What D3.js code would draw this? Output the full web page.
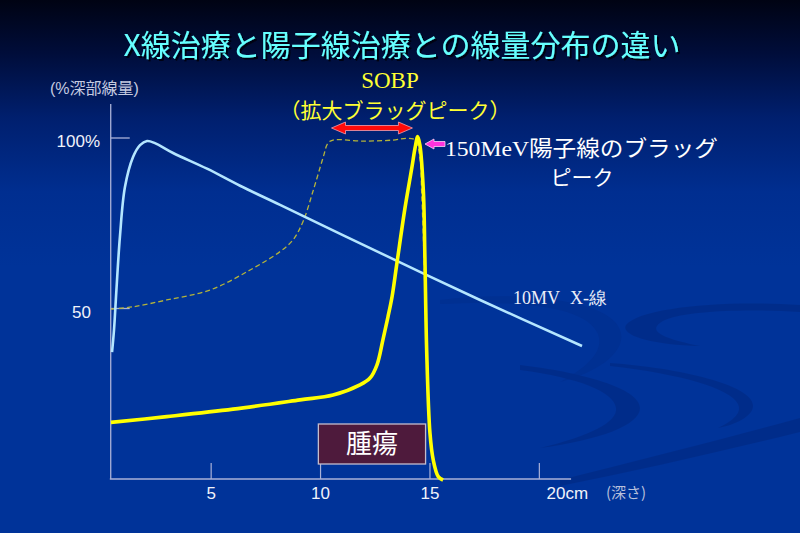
<!DOCTYPE html>
<html>
<head>
<meta charset="utf-8">
<script src="https://cdn.jsdelivr.net/npm/d3@7"></script>
<style>
html,body{margin:0;padding:0;background:#003399;}
svg{display:block;}
</style>
</head>
<body>
<svg id="chart" width="800" height="533"></svg>
<script>
// ---- data ----
const xrayDepth = [0.47,0.56,0.67,0.83,1.06,1.43,1.75,2.07,2.43,3.26,4.81,6.32,8.15,12.72,17.29,21.95];
const xrayDose  = [37.2,43.7,55.4,71.0,85.6,94.4,97.9,99.1,98.5,95.6,91.0,86.0,80.4,66.3,52.5,39.0];

const protonDepth = [0.42,2.97,6.00,9.06,10.57,11.80,12.26,12.58,12.85,13.08,13.27,13.48,13.86,14.17,14.32,14.44,14.54,14.70,14.77,14.85,15.00,15.15,15.38,15.60];
const protonDose  = [16.6,18.3,20.5,23.2,24.6,27.6,29.6,33.5,40.8,47.5,53.5,62.8,79.5,91.2,97.1,100.4,97.9,84.2,64.8,37.8,13.5,5.6,0.7,-0.3];

const sobpDepth = [0.42,1.43,2.97,4.94,6.78,8.15,8.74,9.20,9.65,10.11,10.34,10.57,11.94,13.31,13.94,14.32,14.54,14.62,14.73,14.82];
const sobpDose  = [49.8,50.5,52.5,55.4,61.3,66.7,70.1,75.5,84.3,94.1,98.5,99.4,99.1,99.4,99.9,99.4,94.1,84.3,64.2,40.8];

const xTickValues = [5,10,15,20];
const xTickLabels = ["5","10","15",""];
const yTickValues = [50,100];
const yTickLabels = ["50","100%"];

const titleText = "X線治療と陽子線治療との線量分布の違い";
const yAxisTitle = "(%深部線量)";
const xAxisTitle = "(深さ)";
const xLastLabel = "20cm";
const tumorLabel = "腫瘍";
const tumorRange = [9.9, 14.8];
const xrayLabel = ["10MV", "X-線"];
const sobpLabel1 = "SOBP";
const sobpLabel2 = "（拡大ブラッグピーク）";
const sobpRange = [10.5, 14.2];
const braggLabel1 = ["150MeV", "陽子線のブラッグ"];
const braggLabel2 = "ピーク";

// ---- setup ----
const svg = d3.select("#chart");
const W = 800, H = 533;
const x = d3.scaleLinear().domain([0, 20]).range([101.75, 539.35]);
const y = d3.scaleLinear().domain([0, 100]).range([479, 138]);

const defs = svg.append("defs");
const bg = defs.append("linearGradient").attr("id","bg").attr("x1",0).attr("y1",0).attr("x2",0).attr("y2",1);
[[0,"#000313"],[0.1,"#000d3a"],[0.22,"#001f6e"],[0.36,"#002e90"],[0.5,"#003399"],[1,"#003399"]]
  .forEach(([o,c]) => bg.append("stop").attr("offset",o).attr("stop-color",c));
const sh = defs.append("filter").attr("id","shadow").attr("x","-10%").attr("y","-10%").attr("width","130%").attr("height","140%");
sh.append("feDropShadow").attr("dx",2).attr("dy",2).attr("stdDeviation",0.6).attr("flood-color","#000010").attr("flood-opacity",0.9);

svg.append("rect").attr("width",W).attr("height",H).attr("fill","url(#bg)");

// faint background swooshes
const sw = svg.append("g").attr("fill","#00287f").attr("opacity",0.55);
sw.append("path").attr("d","M800,305 C720,300 640,308 626,325 C620,335 650,345 700,346 C660,338 645,330 665,320 C690,310 750,309 800,312 Z");
sw.append("path").attr("d","M520,365 C580,372 640,388 640,408 C640,425 600,440 540,448 C590,436 618,422 616,408 C614,392 580,378 520,370 Z");
sw.append("path").attr("d","M610,363 C680,368 752,385 753,405 C754,416 735,425 718,428 C735,420 742,412 738,404 C730,388 680,374 610,366 Z");
sw.append("path").attr("d","M560,480 C640,460 720,440 800,418 L800,432 C720,452 640,470 560,486 Z");
sw.append("path").attr("d","M440,300 C520,290 610,300 620,330 C628,350 600,372 560,382 C590,366 604,350 598,334 C586,306 520,300 440,304 Z").attr("opacity",0.5);

// title
svg.append("text").attr("x",402).attr("y",56).attr("text-anchor","middle")
  .attr("font-family","'Noto Sans CJK JP', sans-serif").attr("font-size",30)
  .attr("fill","#66ffff").attr("filter","url(#shadow)").text(titleText);

// axis titles
svg.append("text").attr("x",50).attr("y",94)
  .attr("font-family","'Liberation Sans','Noto Sans CJK JP',sans-serif").attr("font-size",16)
  .attr("fill","#c4cae0").text(yAxisTitle);
svg.append("text").attr("x",606).attr("y",498)
  .attr("font-family","'Noto Sans CJK JP',sans-serif").attr("font-size",15)
  .attr("fill","#b8c0dc").text(xAxisTitle);

// axes
const axisColor = "#aab2d8";
const g = svg.append("g");
g.append("line").attr("x1",x(0.41)).attr("x2",x(0.41)).attr("y1",y(110)).attr("y2",y(0))
  .attr("stroke",axisColor).attr("stroke-width",1.3);
g.append("line").attr("x1",x(0.37)).attr("x2",x(21.45)).attr("y1",y(0)).attr("y2",y(0))
  .attr("stroke",axisColor).attr("stroke-width",1.3);
xTickValues.forEach((v,i) => {
  g.append("line").attr("x1",x(v)).attr("x2",x(v)).attr("y1",y(0)).attr("y2",y(0)-16)
    .attr("stroke",axisColor).attr("stroke-width",1.2);
  g.append("text").attr("x",x(v)).attr("y",y(0)+20).attr("text-anchor","middle")
    .attr("font-family","'Liberation Sans',Arial,sans-serif").attr("font-size",17)
    .attr("fill","#f0f2fa").text(xTickLabels[i]);
});
g.append("text").attr("x",x(20)+28).attr("y",y(0)+20).attr("text-anchor","middle")
  .attr("font-family","'Liberation Sans',Arial,sans-serif").attr("font-size",17)
  .attr("fill","#f0f2fa").text(xLastLabel);
yTickValues.forEach((v,i) => {
  g.append("line").attr("x1",x(0.41)).attr("x2",x(0.41)+19).attr("y1",y(v)).attr("y2",y(v))
    .attr("stroke",axisColor).attr("stroke-width",1.3);
  g.append("text").attr("x", v===100 ? 100 : 91).attr("y",y(v)+9).attr("text-anchor","end")
    .attr("font-family","'Liberation Sans',Arial,sans-serif").attr("font-size",17)
    .attr("fill","#f0f2fa").text(yTickLabels[i]);
});

// tumor box
const tb = svg.append("g");
tb.append("rect").attr("x",x(tumorRange[0])).attr("y",424)
  .attr("width",x(tumorRange[1])-x(tumorRange[0])).attr("height",40)
  .attr("fill","#4e1a3c").attr("stroke","#c4bccc").attr("stroke-width",1.3);
tb.append("text").attr("x",(x(tumorRange[0])+x(tumorRange[1]))/2).attr("y",453)
  .attr("text-anchor","middle").attr("font-family","'Noto Sans CJK JP',sans-serif")
  .attr("font-size",26).attr("fill","#ffffff").text(tumorLabel);

// curves
const lineM = d3.line().x(d => x(d[0])).y(d => y(d[1])).curve(d3.curveMonotoneX);
const lineC = d3.line().x(d => x(d[0])).y(d => y(d[1])).curve(d3.curveCatmullRom.alpha(0.5));
svg.append("path").datum(d3.zip(sobpDepth, sobpDose)).attr("d", lineC)
  .attr("fill","none").attr("stroke","#b4b43a").attr("stroke-width",1.3).attr("stroke-dasharray","5,3");
svg.append("path").datum(d3.zip(xrayDepth, xrayDose)).attr("d", lineC)
  .attr("fill","none").attr("stroke","#b4e6ff").attr("stroke-width",2.6);
svg.append("path").datum(d3.zip(protonDepth, protonDose)).attr("d", lineC)
  .attr("fill","none").attr("stroke","#ffff00").attr("stroke-width",3.6).attr("stroke-linejoin","round");

// labels
svg.append("text").attr("x",513).attr("y",304)
  .attr("font-family","'Liberation Serif','Times New Roman',serif").attr("font-size",18)
  .attr("fill","#eceef8")
  .call(t => { t.append("tspan").text(xrayLabel[0]); t.append("tspan").attr("dx",10).text(xrayLabel[1]); });

svg.append("text").attr("x",390).attr("y",88).attr("text-anchor","middle")
  .attr("font-family","'Liberation Serif','Times New Roman',serif").attr("font-size",23)
  .attr("fill","#ffff33").text(sobpLabel1);
svg.append("text").attr("x",395).attr("y",118).attr("text-anchor","middle")
  .attr("font-family","'Noto Sans CJK JP',sans-serif").attr("font-size",21)
  .attr("fill","#ffff33").text(sobpLabel2);

svg.append("text").attr("x",445).attr("y",156)
  .attr("textLength",273).attr("lengthAdjust","spacingAndGlyphs")
  .attr("fill","#ffffff").attr("font-size",22)
  .call(t => {
    t.append("tspan").attr("font-family","'Liberation Serif','Times New Roman',serif").text(braggLabel1[0]);
    t.append("tspan").attr("font-family","'Noto Sans CJK JP',sans-serif").text(braggLabel1[1]);
  });
svg.append("text").attr("x",582).attr("y",185).attr("text-anchor","middle")
  .attr("font-family","'Noto Sans CJK JP',sans-serif").attr("font-size",21)
  .attr("fill","#ffffff").text(braggLabel2);

// red double arrow (SOBP width)
const ax0 = x(sobpRange[0]), ax1 = x(sobpRange[1]), ay = 128;
svg.append("path")
  .attr("d", `M${ax0},${ay} L${ax0+14},${ay-6} L${ax0+14},${ay-2.5} L${ax1-14},${ay-2.5} L${ax1-14},${ay-6} L${ax1},${ay} L${ax1-14},${ay+6} L${ax1-14},${ay+2.5} L${ax0+14},${ay+2.5} L${ax0+14},${ay+6} Z`)
  .attr("fill","#ff0a0a").attr("stroke","#f4a0b0").attr("stroke-width",0.8);

// magenta arrow
const mx = 425, my = 144;
svg.append("path")
  .attr("d", `M${mx},${my} L${mx+9},${my-5} L${mx+9},${my-2.5} L${mx+20},${my-2.5} L${mx+20},${my+2.5} L${mx+9},${my+2.5} L${mx+9},${my+5} Z`)
  .attr("fill","#ff33dd").attr("stroke","#ffd0f4").attr("stroke-width",0.8);
</script>
</body>
</html>
